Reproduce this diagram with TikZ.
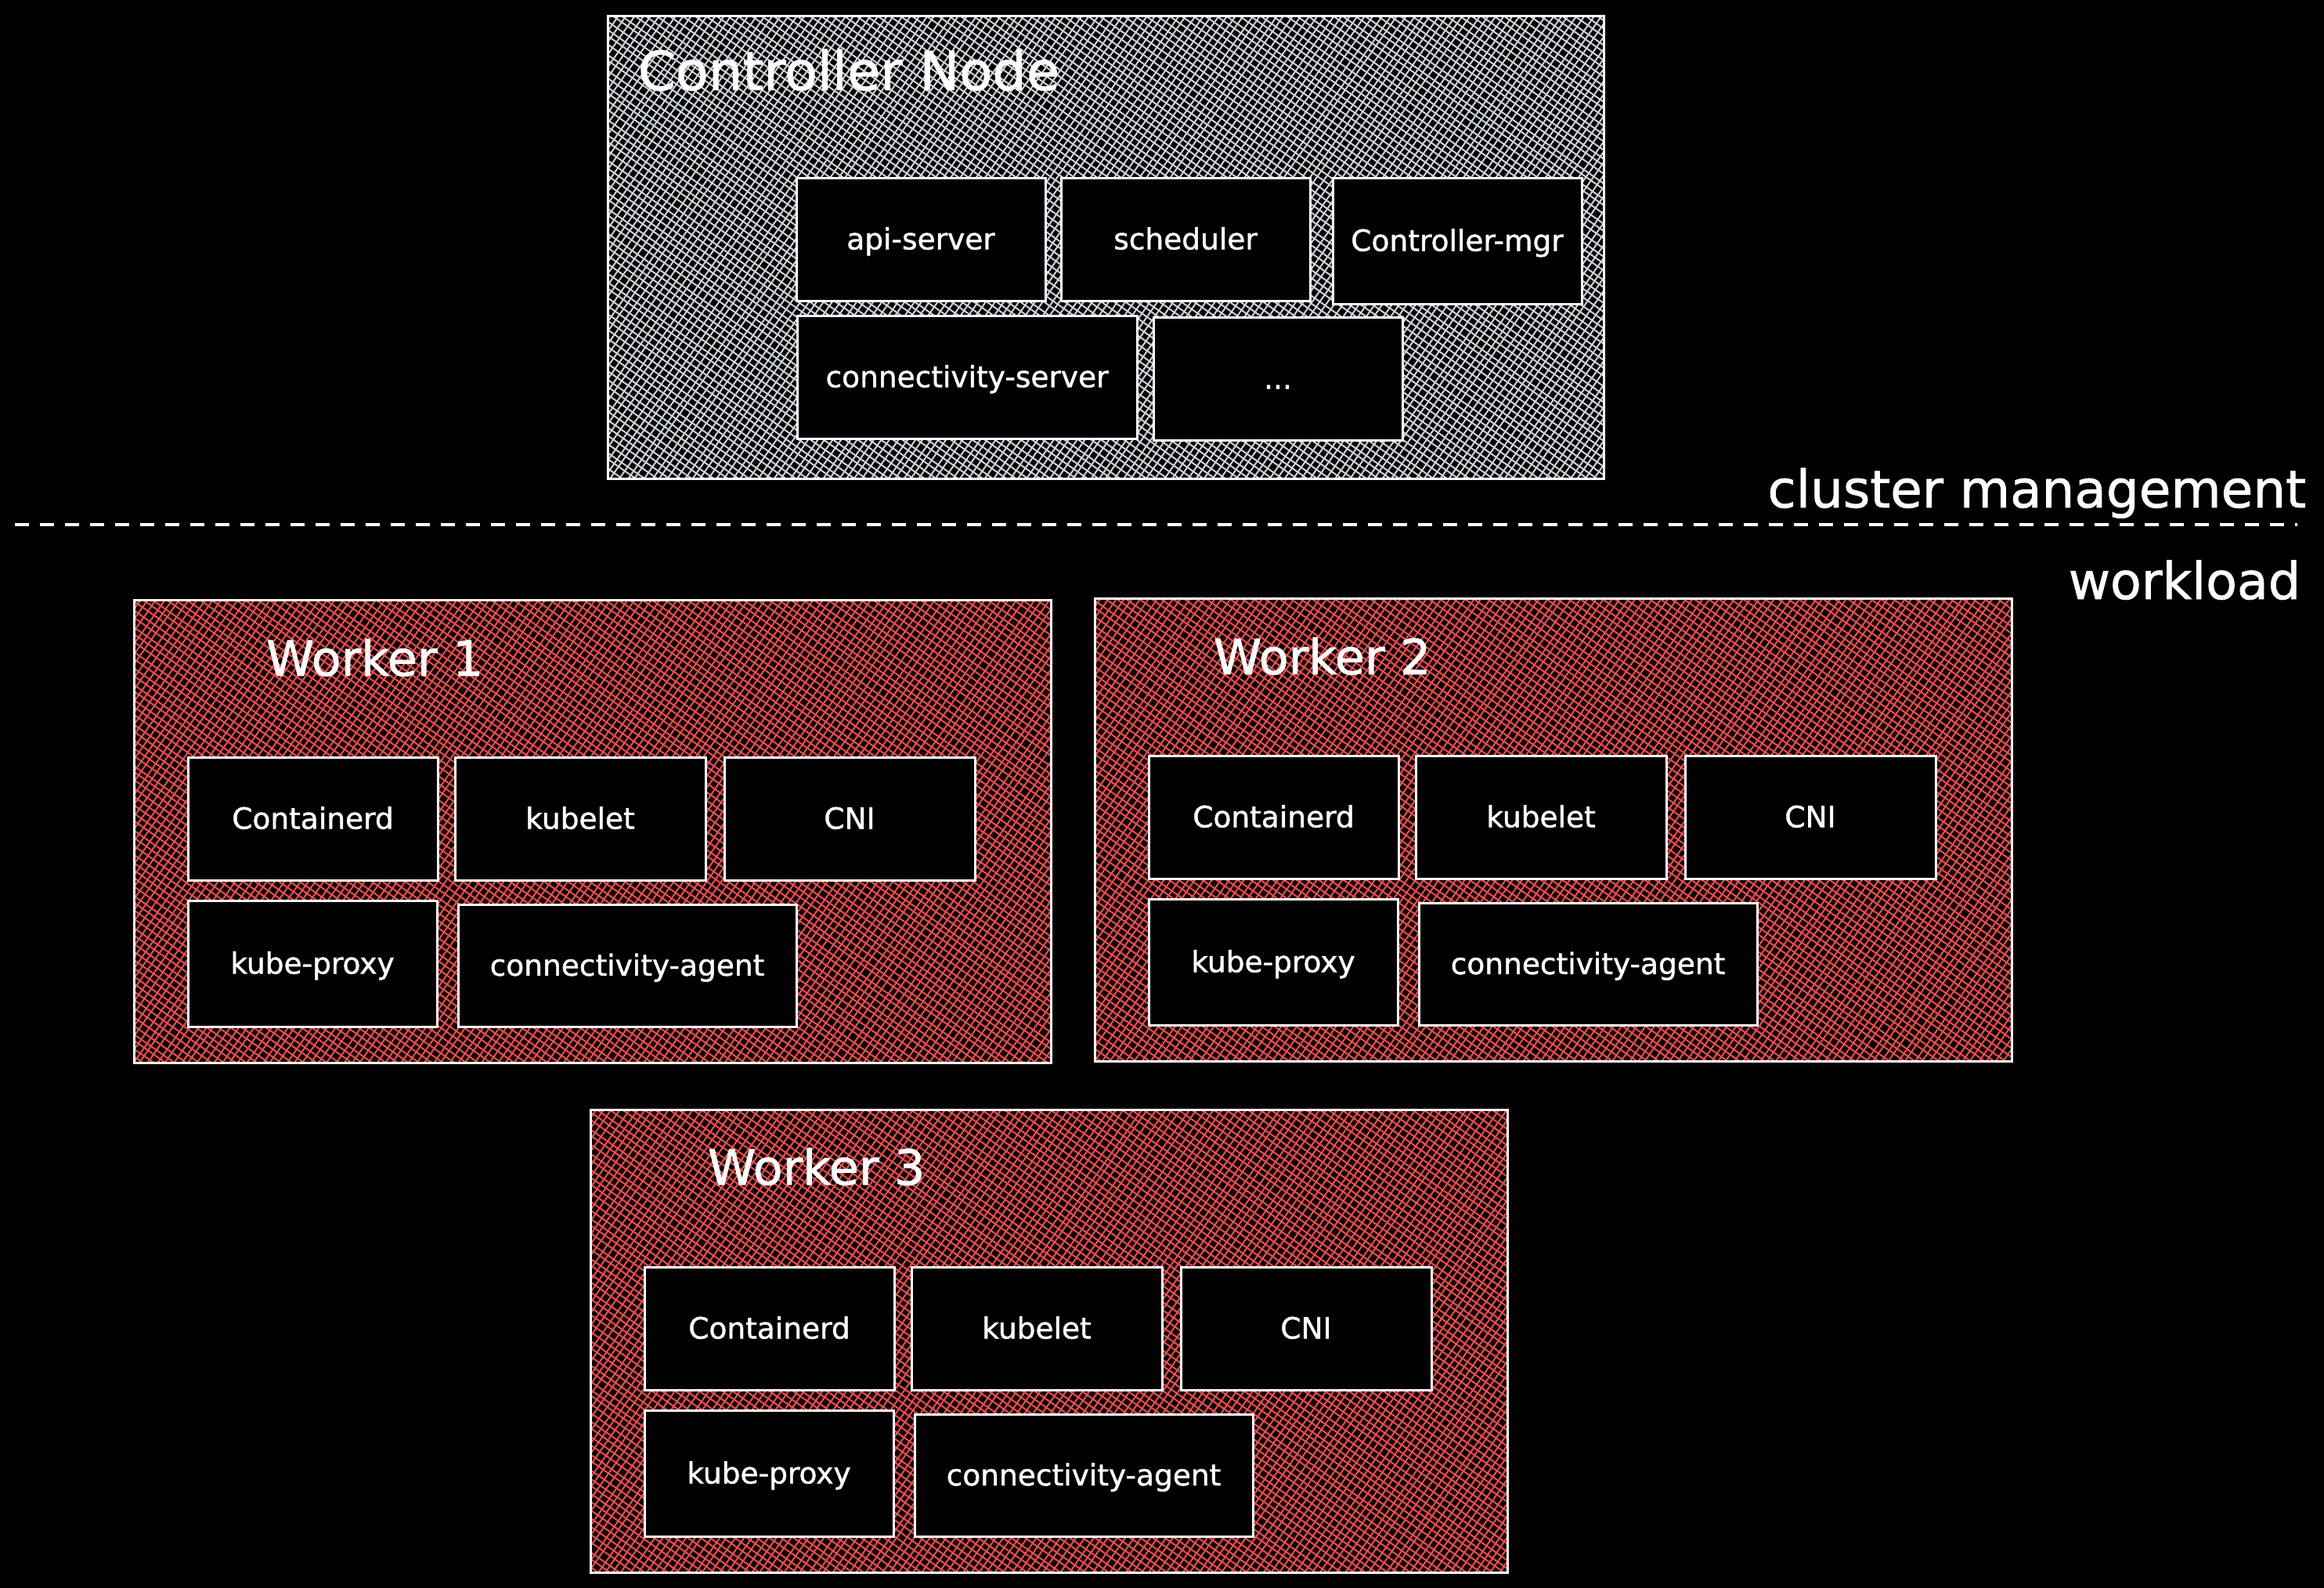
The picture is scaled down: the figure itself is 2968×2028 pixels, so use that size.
\documentclass[tikz,border=0pt]{standalone}
\usepackage{fontspec}
\setmainfont{DejaVu Sans}[FakeBold=1.2]
\definecolor{hatchgray}{HTML}{CED4DA}
\definecolor{hatchred}{HTML}{FA4B4B}
\tikzset{
  innerbox/.style={draw=white, line width=3, fill=black, text=white,
    font=\fontsize{37.5}{45}\selectfont, text height=30pt, text depth=4pt,
    inner sep=0, outer sep=0},
  outerbox/.style={draw=white, line width=3, inner sep=0, outer sep=0},
  titletext/.style={text=white, inner sep=0, outer sep=0},
  sepline/.style={draw=white, line width=4, dash pattern=on 18 off 14},
}
\pgfmathsetseed{7}
% #1 x, #2 y, #3 w, #4 h, #5 colour, #6 half diagonal
\newcommand{\hatchfill}[6]{%
  \begin{scope}
    \clip (#1,#2) rectangle ++(#3,#4);
    \pgfmathsetmacro{\cx}{#1+#3/2}
    \pgfmathsetmacro{\cy}{#2+#4/2}
    \pgfmathtruncatemacro{\nn}{2*#6/8.5}
    \foreach \ang in {-35,55} {
      \begin{scope}[shift={(\cx,\cy)}, rotate=\ang]
        \foreach \j in {0,...,\nn} {
          \pgfmathsetmacro{\ya}{-#6+8.5*\j+1.6*rand}
          \pgfmathsetmacro{\yb}{-#6+8.5*\j+1.6*rand}
          \draw[#5, line width=2] (-#6,\ya) -- (#6,\yb);
        }
      \end{scope}
    }
  \end{scope}}
\newcommand{\worker}[6]{%
  \hatchfill{#2}{#3}{1171}{591}{hatchred}{660}
  \node[outerbox, minimum width=1171, minimum height=591, anchor=north west] (#1) at (#2,#3) {};
  \begin{scope}[shift={(#2,#3)}]
    \node[innerbox, minimum width=319, minimum height=157] (#1-containerd) at (228.5,279.5) {Containerd};
    \node[innerbox, minimum width=320, minimum height=157] (#1-kubelet) at (570,279.5) {kubelet};
    \node[innerbox, minimum width=320, minimum height=157] (#1-cni) at (914,279.5) {CNI};
    \node[innerbox, minimum width=318, minimum height=161] (#1-proxy) at (228,464.5) {kube-proxy};
    \node[innerbox, minimum width=432, minimum height=156] (#1-agent) at (630,467) {connectivity-agent};
  \end{scope}
  \node[titletext, font=\fontsize{62}{70}\selectfont, anchor=base west] (#1-title) at (#5,#6) {#4};
}
\begin{document}
\begin{tikzpicture}[x=1pt, y=-1pt]
  \fill[black] (0,0) rectangle (2968,2028);
  \useasboundingbox (0,0) rectangle (2968,2028);

  % Controller node
  \hatchfill{776}{21}{1272}{590}{hatchgray}{705}
  \node[outerbox, minimum width=1272, minimum height=590, anchor=north west] (ctrl) at (776,21) {};
  \node[titletext, font=\fontsize{68.6}{80}\selectfont, anchor=base west] (ctrl-title) at (815,115) {Controller Node};
  \node[innerbox, minimum width=318, minimum height=157] (api) at (1176,305.5) {api-server};
  \node[innerbox, minimum width=318, minimum height=157] (sched) at (1514,305.5) {scheduler};
  \node[innerbox, minimum width=318, minimum height=161] (cmgr) at (1861,307.5) {Controller-mgr};
  \node[innerbox, minimum width=434, minimum height=157] (connsrv) at (1235,481.5) {connectivity-server};
  \node[innerbox, minimum width=318, minimum height=157] (dots) at (1632,483.5) {...};

  % separator
  \coordinate (sepL) at (19,670);
  \coordinate (sepR) at (2934,670);
  \draw[sepline] (sepL) -- (sepR);
  \node[titletext, font=\fontsize{66}{76}\selectfont, anchor=base east] (cm) at (2945,648) {cluster management};
  \node[titletext, font=\fontsize{65}{76}\selectfont, anchor=base east] (wl) at (2938,765) {workload};

  % workers
  \worker{w1}{171}{766}{Worker 1}{340}{863}
  \worker{w2}{1398}{764}{Worker 2}{1550}{861}
  \worker{w3}{754}{1417}{Worker 3}{904}{1513}
\end{tikzpicture}
\end{document}
